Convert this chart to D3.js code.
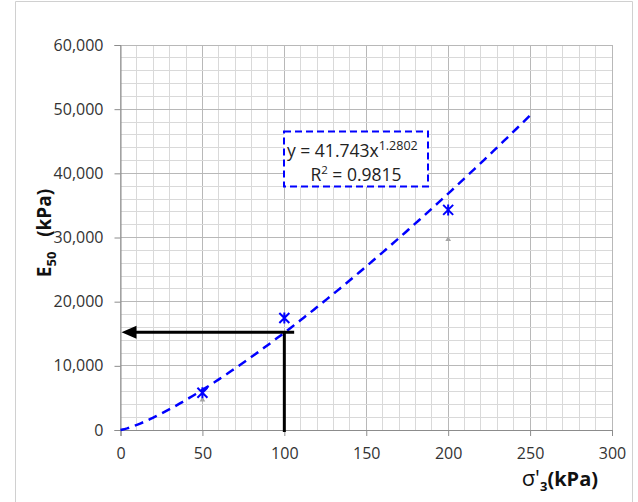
<!DOCTYPE html>
<html>
<head>
<meta charset="utf-8">
<script src="https://cdn.jsdelivr.net/npm/d3@7"></script>
<style>
  html, body { margin: 0; padding: 0; background: #fff; }
  svg { display: block; font-family: "Open Sans", "Liberation Sans", sans-serif; }
</style>
</head>
<body>
<svg id="chart" width="638" height="502"></svg>
<script>
// Confining stress (kPa) and measured secant modulus E50 (kPa)
const sigma3 = [50, 100, 200];
const e50 = [5800, 17450, 34300];
// Secondary series (small grey markers)
const sigma3Alt = [50, 200];
const e50Alt = [4700, 29700];
// Power-law fit y = a x^b
const fitA = 41.743;
const fitB = 1.2802;
const fitR2 = 0.9815;
const fitMaxX = 250;
// Value at sigma'3 = 100 kPa
const readX = 100;
const readY = 15250;
const readLineEndX = 106;

const xTicks = [0, 50, 100, 150, 200, 250, 300];
const yTicks = [0, 10000, 20000, 30000, 40000, 50000, 60000];

const svg = d3.select("#chart");
const plotL = 120.5, plotR = 612, plotT = 45, plotB = 430;

const x = d3.scaleLinear().domain([0, 300]).range([plotL, plotR]);
const y = d3.scaleLinear().domain([0, 60000]).range([plotB, plotT]);

// outer frame
svg.append("path")
  .attr("d", "M15.5,510 V1.5 H632.5 V510")
  .attr("fill", "none").attr("stroke", "#d0d0d0").attr("stroke-width", 1);

// grid
const g = svg.append("g");
d3.range(0, 301, 10).forEach(v => {
  g.append("line").attr("x1", x(v)).attr("x2", x(v)).attr("y1", plotT).attr("y2", plotB)
    .attr("stroke", v % 50 === 0 ? "#b8b8b8" : "#d9d9d9").attr("stroke-width", 1)
    .attr("shape-rendering", "crispEdges");
});
d3.range(0, 60001, 2000).forEach(v => {
  g.append("line").attr("x1", plotL).attr("x2", plotR).attr("y1", y(v)).attr("y2", y(v))
    .attr("stroke", v % 10000 === 0 ? "#b8b8b8" : "#d9d9d9").attr("stroke-width", 1)
    .attr("shape-rendering", "crispEdges");
});

// axes
const xAxis = d3.axisBottom(x).tickValues(xTicks).tickSize(6).tickPadding(12)
  .tickFormat(d3.format("d"));
const yAxis = d3.axisLeft(y).tickValues(yTicks).tickSize(6).tickPadding(11)
  .tickFormat(d3.format(","));

const gx = svg.append("g").attr("transform", `translate(0,${plotB})`).call(xAxis);
const gy = svg.append("g").attr("transform", `translate(${plotL},0)`).call(yAxis);
[gx, gy].forEach(a => {
  a.select(".domain").attr("stroke", "#8c8c8c");
  a.selectAll(".tick line").attr("stroke", "#8c8c8c");
  a.selectAll("text").attr("fill", "#333").style("font-size", "16px")
    .style("font-family", "'Open Sans', sans-serif");
});

// fitted power curve
const curve = d3.range(0, fitMaxX + 0.01, 2).map(v => [v, fitA * Math.pow(v, fitB)]);
svg.append("path")
  .datum(curve)
  .attr("d", d3.line().x(d => x(d[0])).y(d => y(d[1])))
  .attr("fill", "none").attr("stroke", "#0000ff").attr("stroke-width", 2.5)
  .attr("stroke-dasharray", "9,6");

// grey secondary markers
const tri = d3.symbol().type(d3.symbolTriangle).size(14);
svg.append("g").selectAll("path").data(sigma3Alt.map((v, i) => [v, e50Alt[i]])).join("path")
  .attr("d", tri).attr("transform", d => `translate(${x(d[0])},${y(d[1])})`)
  .attr("fill", "#a6a6a6");

// reading arrow at sigma'3 = 100 kPa
svg.append("line").attr("x1", x(readX)).attr("x2", x(readX))
  .attr("y1", y(0) + 2).attr("y2", y(readY))
  .attr("stroke", "#000").attr("stroke-width", 3);
svg.append("line").attr("x1", x(readLineEndX)).attr("x2", x(0) + 14)
  .attr("y1", y(readY)).attr("y2", y(readY))
  .attr("stroke", "#000").attr("stroke-width", 3);
svg.append("path")
  .attr("d", `M${x(0) + 1},${y(readY)} L${x(0) + 16},${y(readY) - 6.5} L${x(0) + 16},${y(readY) + 6.5} Z`)
  .attr("fill", "#000");

// measured points: star markers
const star = svg.append("g");
sigma3.forEach((v, i) => {
  const cx = x(v), cy = y(e50[i]), r = 5;
  star.append("path")
    .attr("d", `M${cx - r},${cy - r} L${cx + r},${cy + r} M${cx - r},${cy + r} L${cx + r},${cy - r} M${cx},${cy - r - 0.5} L${cx},${cy + r + 0.5}`)
    .attr("stroke", "#0000ff").attr("stroke-width", 2).attr("fill", "none");
});

// equation label
svg.append("rect").attr("x", 284).attr("y", 131.5).attr("width", 144).attr("height", 55)
  .attr("fill", "#fff").attr("stroke", "#0000ff").attr("stroke-width", 2)
  .attr("stroke-dasharray", "7,4");
const eq = svg.append("text").attr("x", 287).attr("y", 157)
  .style("font-size", "17.5px").attr("fill", "#222")
  .style("font-family", "'Open Sans', sans-serif");
eq.append("tspan").text(`y = ${fitA}x`);
eq.append("tspan").attr("dy", -7).style("font-size", "12.5px").text(fitB);
const r2 = svg.append("text").attr("x", 356).attr("y", 181).attr("text-anchor", "middle")
  .style("font-size", "17.5px").attr("fill", "#222")
  .style("font-family", "'Open Sans', sans-serif");
r2.append("tspan").text("R");
r2.append("tspan").attr("dy", -7).style("font-size", "11.5px").text("2");
r2.append("tspan").attr("dy", 7).text(` = ${fitR2}`);

// axis titles
const xt = svg.append("text").attr("x", 598).attr("y", 486).attr("text-anchor", "end")
  .style("font-size", "20px").style("font-weight", "bold").attr("fill", "#111");
xt.append("tspan").style("font-weight", "normal").style("font-size", "22px").text("σ'");
xt.append("tspan").attr("dy", 5).style("font-size", "13px").text("3");
xt.append("tspan").attr("dy", -5).text("(kPa)");

const yt = svg.append("text").attr("transform", "translate(51,233) rotate(-90)")
  .attr("text-anchor", "middle")
  .style("font-size", "19px").style("font-weight", "bold").attr("fill", "#111");
yt.append("tspan").text("E");
yt.append("tspan").attr("dy", 5).style("font-size", "13px").text("50");
yt.append("tspan").attr("dy", -5).text("\u00a0\u00a0\u00a0(kPa)");
</script>
</body>
</html>
